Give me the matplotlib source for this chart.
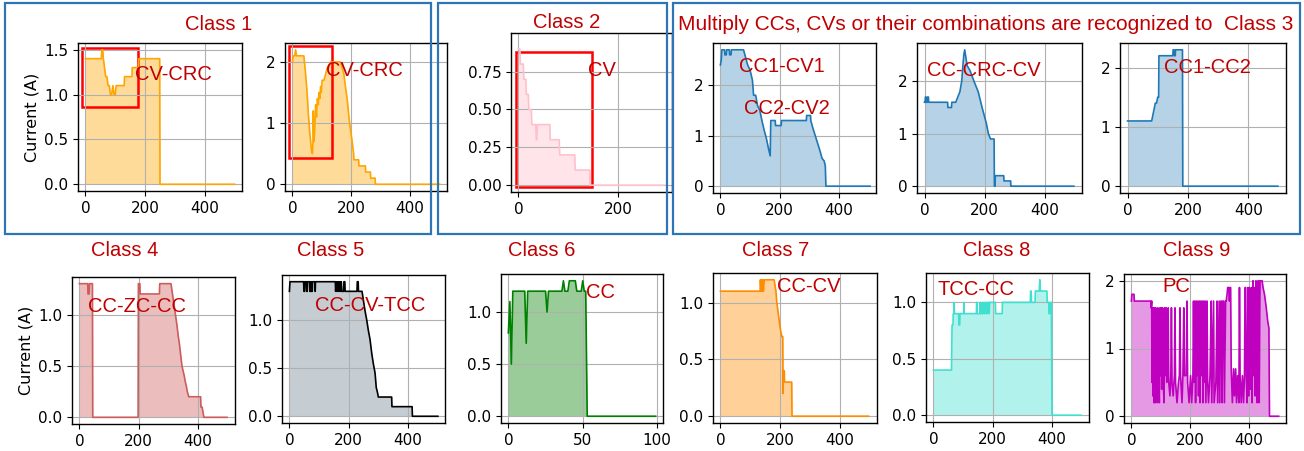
import matplotlib
matplotlib.use("Agg")
import matplotlib.pyplot as plt
from matplotlib.patches import Rectangle

W, H = 1304, 451
RED_TXT = "#c00000"
BOX_BLUE = "#2e75b6"
TXT_FONT = ["Liberation Sans", "DejaVu Sans"]

# ---- data: (time, current) breakpoints ----
# Class 1, left
c1a_x = [0, 53, 55, 58, 60, 64, 68, 72, 76, 80, 84, 88, 92, 96, 100, 103, 130, 131, 156, 157, 178, 179, 249, 250, 500]
c1a_y = [1.4, 1.4, 1.5, 1.5, 1.4, 1.3, 1.2, 1.2, 1.1, 1.1, 1.0, 1.0, 1.1, 1.0, 1.0, 1.1, 1.1, 1.2, 1.2, 1.3, 1.3, 1.4, 1.4, 0.0, 0.0]
# Class 1, right
c1b_x = [0, 3, 8, 11, 14, 39, 45, 50, 55, 60, 65, 68, 70, 71, 73, 76, 79, 82, 85, 88, 90, 93, 96, 98, 101, 107,
         113, 118, 124, 130, 163, 169, 175, 180, 186, 192, 197, 203, 208, 209, 225, 226, 248, 249, 265, 266, 281, 282, 500]
c1b_y = [2.0, 2.1, 2.1, 2.2, 2.1, 2.1, 1.8, 1.5, 1.1, 0.8, 0.55, 0.5, 0.7, 1.2, 0.7, 0.9, 1.3, 1.1, 1.4, 1.3, 1.5, 1.4, 1.6, 1.5, 1.7, 1.7,
         1.8, 1.9, 1.9, 2.0, 2.0, 1.9, 1.8, 1.6, 1.4, 1.1, 0.9, 0.7, 0.5, 0.4, 0.4, 0.3, 0.3, 0.2, 0.2, 0.1, 0.1, 0.0, 0.0]
# Class 2
c2_x = [0, 3, 4, 10, 11, 15, 16, 20, 21, 26, 27, 35, 36, 37, 38, 63, 64, 82, 83, 113, 114, 143, 144, 293]
c2_y = [0.9, 0.9, 0.8, 0.8, 0.7, 0.7, 0.6, 0.6, 0.5, 0.5, 0.4, 0.4, 0.3, 0.3, 0.4, 0.4, 0.3, 0.3, 0.2, 0.2, 0.1, 0.1, 0.0, 0.0]
# Class 3: CC1-CV1 / CC2-CV2
c3a_x = [0, 3, 5, 14, 15, 20, 21, 30, 31, 36, 37, 78, 85, 92, 100, 108, 112, 119, 125, 133, 140, 148, 155, 162, 168,
         170, 185, 186, 205, 206, 290, 291, 304, 305, 312, 320, 328, 336, 343, 350, 354, 356, 505]
c3a_y = [2.4, 2.5, 2.7, 2.7, 2.6, 2.6, 2.7, 2.7, 2.6, 2.6, 2.7, 2.7, 2.55, 2.4, 2.3, 2.1, 1.8, 1.8, 1.6, 1.5, 1.3, 1.1, 0.95, 0.75, 0.6,
         1.3, 1.3, 1.2, 1.2, 1.3, 1.3, 1.4, 1.4, 1.3, 1.15, 1.0, 0.85, 0.7, 0.55, 0.5, 0.4, 0.0, 0.0]
# Class 3: CC-CRC-CV
c3b_x = [0, 2, 3, 5, 6, 9, 10, 13, 14, 77, 78, 90, 91, 104, 111, 118, 124, 128, 131, 134,
         138, 142, 152, 165, 179, 192, 206, 213, 220, 232, 233, 235, 236, 264, 265, 287, 288, 498]
c3b_y = [1.6, 1.6, 1.7, 1.7, 1.6, 1.6, 1.7, 1.7, 1.6, 1.6, 1.5, 1.5, 1.6, 1.6, 1.7, 1.8, 2.0, 2.3, 2.5, 2.6,
         2.45, 2.3, 2.2, 2.0, 1.8, 1.5, 1.2, 1.0, 0.9, 0.9, 0.0, 0.0, 0.2, 0.2, 0.1, 0.1, 0.0, 0.0]
# Class 3: CC1-CC2
c3c_x = [0, 80, 84, 88, 92, 96, 100, 103, 104, 150, 151, 154, 155, 158, 159, 182, 183, 498]
c3c_y = [1.1, 1.1, 1.2, 1.3, 1.4, 1.4, 1.5, 1.5, 2.2, 2.2, 2.3, 2.3, 2.2, 2.2, 2.3, 2.3, 0.0, 0.0]
# Class 4
c4_x = [0, 28, 29, 33, 34, 44, 45, 198, 199, 204, 205, 270, 271, 309, 314, 319, 324, 329, 333, 338, 342,
        346, 350, 354, 357, 361, 364, 369, 409, 410, 414, 420, 498]
c4_y = [1.3, 1.3, 1.2, 1.2, 1.3, 1.3, 0.0, 0.0, 1.3, 1.3, 1.2, 1.2, 1.3, 1.3, 1.2, 1.1, 1.0, 0.9, 0.8, 0.7, 0.6,
        0.5, 0.45, 0.4, 0.35, 0.3, 0.25, 0.2, 0.2, 0.1, 0.1, 0.0, 0.0]
# Class 5
c5_x = [0, 2, 48, 49, 51, 52, 57, 58, 60, 61, 68, 69, 71, 72, 74, 75, 77, 78, 86, 87, 88, 155, 156, 158, 160, 162,
        164, 166, 168, 170, 172, 175, 177, 183, 184, 187, 188, 228, 229, 232, 233, 245, 250, 255, 261, 266, 272,
        278, 283, 289, 293, 297, 300, 345, 346, 414, 415, 501]
c5_y = [1.3, 1.4, 1.4, 1.3, 1.3, 1.4, 1.4, 1.3, 1.3, 1.4, 1.4, 1.3, 1.3, 1.4, 1.4, 1.3, 1.3, 1.4, 1.4, 1.3, 1.4, 1.4, 1.3, 1.4, 1.3, 1.4,
        1.3, 1.4, 1.3, 1.4, 1.3, 1.4, 1.3, 1.3, 1.4, 1.4, 1.3, 1.3, 1.4, 1.4, 1.3, 1.3, 1.2, 1.1, 1.0, 0.9, 0.8,
        0.65, 0.55, 0.45, 0.3, 0.25, 0.2, 0.2, 0.1, 0.1, 0.0, 0.0]
# Class 6
c6_x = [0, 1, 2, 3, 11, 12, 13, 25, 26, 27, 36, 37, 38, 40, 41, 45, 46, 49, 50, 51, 52, 53, 99]
c6_y = [0.8, 1.1, 0.5, 1.2, 1.2, 0.7, 1.2, 1.2, 1.0, 1.2, 1.2, 1.3, 1.2, 1.2, 1.3, 1.3, 1.2, 1.2, 1.3, 1.2, 1.2, 0.0, 0.0]
# Class 7
c7_x = [0, 133, 134, 136, 138, 140, 142, 144, 147, 180, 186, 189, 194, 199, 202, 206, 209, 210, 211, 214, 215, 239, 240, 497]
c7_y = [1.1, 1.1, 1.2, 1.1, 1.2, 1.1, 1.2, 1.1, 1.2, 1.2, 1.1, 1.0, 0.9, 0.8, 0.75, 0.7, 0.7, 0.2, 0.4, 0.4, 0.3, 0.3, 0.0, 0.0]
# Class 8
c8_x = [0, 61, 63, 66, 67, 69, 70, 71, 85, 86, 89, 90, 102, 103, 104, 145, 146, 148, 157, 158, 160, 164, 165, 167, 170,
        172, 176, 178, 181, 183, 186, 188, 190, 209, 210, 232, 233, 327, 328, 330, 331, 343, 344, 357, 359, 361,
        383, 384, 389, 390, 393, 394, 398, 400, 498]
c8_y = [0.4, 0.4, 0.8, 0.8, 0.9, 0.9, 1.0, 0.9, 0.9, 0.8, 0.8, 0.9, 0.9, 1.0, 0.9, 0.9, 1.0, 0.9, 0.9, 1.0, 0.9, 0.9, 1.0, 0.9, 1.0,
        0.9, 1.0, 0.9, 1.0, 0.9, 1.0, 0.9, 1.0, 1.0, 0.9, 0.9, 1.0, 1.0, 1.1, 1.1, 1.0, 1.0, 1.1, 1.1, 1.2, 1.1,
        1.1, 1.0, 1.0, 0.9, 0.9, 1.0, 1.0, 0.0, 0.0]
# Class 9 (pulse charging)
c9_x = [0, 2, 9, 10, 66, 67, 69, 70, 72, 73, 75, 77, 79, 81, 83, 85, 88, 90, 92, 95, 97, 99, 101, 103, 106, 108, 111,
        113, 115, 118, 120, 123, 125, 127, 131, 134, 136, 138, 142, 146, 148, 150, 155, 160, 163, 165, 167, 172,
        175, 178, 180, 186, 189, 191, 196, 201, 205, 209, 211, 213, 216, 218, 221, 223, 226, 228, 231, 233, 236,
        238, 241, 243, 246, 248, 251, 253, 257, 259, 262, 267, 271, 273, 279, 281, 287, 291, 293, 298, 300, 304,
        306, 308, 311, 314, 316, 320, 322, 325, 327, 331, 333, 335, 337, 339, 343, 347, 350, 354, 357, 361, 365,
        367, 369, 373, 377, 381, 384, 386, 388, 390, 393, 396, 398, 401, 403, 405, 408, 410, 413, 415, 418, 420,
        423, 425, 427, 430, 432, 434, 437, 444, 447, 452, 458, 463, 467, 469, 500]
c9_y = [1.7, 1.8, 1.8, 1.7, 1.7, 1.6, 1.7, 0.5, 1.6, 0.3, 1.6, 0.2, 1.6, 0.2, 1.6, 0.5, 0.2, 1.6, 0.6, 0.2, 1.6, 0.6, 1.6, 0.4, 1.6, 0.5, 0.2,
        1.6, 0.6, 1.6, 0.5, 0.6, 1.6, 0.5, 0.3, 0.6, 1.6, 0.5, 0.3, 0.6, 1.6, 0.5, 0.2, 0.5, 0.6, 1.6, 0.6, 0.2,
        0.6, 1.6, 0.6, 0.6, 1.7, 0.5, 0.2, 0.6, 0.2, 0.6, 1.7, 0.5, 1.7, 0.2, 1.7, 0.6, 1.7, 0.3, 1.7, 0.2, 1.7,
        0.6, 1.7, 0.2, 1.7, 0.5, 1.7, 0.2, 1.7, 0.5, 0.2, 0.6, 1.7, 0.2, 1.7, 0.2, 0.5, 1.7, 0.2, 1.7, 0.2, 1.7,
        1.7, 0.2, 1.7, 1.7, 0.2, 1.7, 1.7, 1.8, 1.9, 1.9, 1.7, 1.9, 1.9, 0.7, 0.2, 0.7, 0.3, 0.7, 0.2, 0.6, 0.2,
        1.9, 0.6, 0.2, 0.6, 0.2, 0.6, 1.9, 1.9, 0.6, 0.2, 1.9, 0.3, 1.9, 1.8, 0.4, 1.9, 0.2, 2.0, 0.6, 1.9, 0.3,
        2.0, 1.9, 0.2, 2.0, 2.0, 0.2, 2.0, 2.0, 1.9, 1.8, 1.6, 1.4, 1.3, 0.0, 0.0]

# ---- layout, all in pixels of the 1304x451 picture ----
fig = plt.figure(figsize=(W / 100, H / 100), dpi=100)


def px_axes(x0, y0, x1, y1):
    return fig.add_axes([x0 / W, 1 - y1 / H, (x1 - x0) / W, (y1 - y0) / H])


def draw(ax, x, y, color, xlim, ylim, xticks, yticks, ylabels=None, alpha=0.4):
    ax.fill_between(x, y, color=color[1], alpha=alpha, lw=0)
    ax.plot(x, y, color=color[0], lw=1.2)
    ax.set_xlim(*xlim)
    ax.set_ylim(*ylim)
    ax.set_xticks(xticks)
    ax.set_yticks(yticks)
    if ylabels is not None:
        ax.set_yticklabels(ylabels)
    ax.grid(True, color="#b0b0b0", lw=0.8)
    ax.tick_params(labelsize=11, length=3.5, width=0.8)
    for s in ax.spines.values():
        s.set_linewidth(1.0)


def note(ax, x, y, s):
    ax.text(x, y, s, color=RED_TXT, fontsize=14.5, family=TXT_FONT, ha="left", va="center")


X5 = (-25, 525)
T3 = [0, 200, 400]

# top row
a = px_axes(78, 43, 242, 191)
draw(a, c1a_x, c1a_y, ("orange", "orange"), X5, (-0.075, 1.575), T3, [0, 0.5, 1.0, 1.5])
a.set_ylabel("Current (A)", fontsize=11.5, labelpad=3)
a.add_patch(Rectangle((-11, 0.867), 188, 0.647, fill=False, ec="red", lw=1.8))
note(a, 165, 1.22, "CV-CRC")

a = px_axes(285, 43, 447, 191)
draw(a, c1b_x, c1b_y, ("orange", "orange"), X5, (-0.11, 2.31), T3, [0, 1, 2])
a.add_patch(Rectangle((-10, 0.435), 143, 1.82, fill=False, ec="red", lw=1.8))
note(a, 113, 1.86, "CV-CRC")

a = px_axes(511, 33, 672, 192)
draw(a, c2_x, c2_y, ("pink", "pink"), (-14.7, 308), (-0.045, 1.005), [0, 200], [0, 0.25, 0.5, 0.75],
     ["0.00", "0.25", "0.50", "0.75"])
a.add_patch(Rectangle((-4.7, -0.011), 151.7, 0.888, fill=False, ec="red", lw=1.8))
note(a, 140, 0.757, "CV")

a = px_axes(713, 43, 876, 193)
draw(a, c3a_x, c3a_y, ("#1f77b4", "#1f77b4"), X5, (-0.135, 2.835), T3, [0, 1, 2], alpha=0.33)
note(a, 64, 2.37, "CC1-CV1")
note(a, 78, 1.53, "CC2-CV2")

a = px_axes(917, 43, 1082, 193)
draw(a, c3b_x, c3b_y, ("#1f77b4", "#1f77b4"), X5, (-0.13, 2.73), T3, [0, 1, 2], alpha=0.33)
note(a, 9, 2.21, "CC-CRC-CV")

a = px_axes(1120, 43, 1286, 193)
draw(a, c3c_x, c3c_y, ("#1f77b4", "#1f77b4"), X5, (-0.115, 2.415), T3, [0, 1, 2], alpha=0.33)
note(a, 120, 2.0, "CC1-CC2")

# bottom row
a = px_axes(72, 277, 235, 424)
draw(a, c4_x, c4_y, ("indianred", "indianred"), X5, (-0.065, 1.365), T3, [0, 0.5, 1.0])
a.set_ylabel("Current (A)", fontsize=11.5, labelpad=3)
note(a, 28, 1.08, "CC-ZC-CC")

a = px_axes(282, 275, 445, 423)
draw(a, c5_x, c5_y, ("black", "slategray"), X5, (-0.07, 1.47), T3, [0, 0.5, 1.0])
note(a, 88, 1.15, "CC-CV-TCC")

a = px_axes(501, 274, 663, 423)
draw(a, c6_x, c6_y, ("green", "green"), (-4.95, 103.95), (-0.065, 1.365), [0, 50, 100], [0, 0.5, 1.0])
note(a, 52, 1.19, "CC")

a = px_axes(713, 273, 877, 423)
draw(a, c7_x, c7_y, ("darkorange", "darkorange"), X5, (-0.06, 1.26), T3, [0, 0.5, 1.0])
note(a, 191, 1.14, "CC-CV")

a = px_axes(926, 273, 1089, 422)
draw(a, c8_x, c8_y, ("turquoise", "turquoise"), X5, (-0.06, 1.26), T3, [0, 0.5, 1.0])
note(a, 13, 1.11, "TCC-CC")

a = px_axes(1124, 274, 1286, 423)
draw(a, c9_x, c9_y, ("m", "m"), X5, (-0.1, 2.1), T3, [0, 1, 2])
note(a, 105, 1.92, "PC")

# titles
titles = [(219, 24, "Class 1", 14.5), (567, 23, "Class 2", 14.5),
          (986, 25, "Multiply CCs, CVs or their combinations are recognized to  Class 3", 15),
          (125, 250, "Class 4", 14.5), (331, 250, "Class 5", 14.5), (542, 250, "Class 6", 14.5),
          (776, 250, "Class 7", 14.5), (997, 250, "Class 8", 14.5), (1197, 250, "Class 9", 14.5)]
for tx, ty, s, fs in titles:
    fig.text(tx / W, 1 - ty / H, s, color=RED_TXT, fontsize=fs, family=TXT_FONT, ha="center", va="center")

# blue group boxes
for x0, y0, x1, y1 in [(5, 3, 431, 234), (438, 3, 667, 234), (673, 3, 1300, 234)]:
    fig.add_artist(Rectangle((x0 / W, 1 - y1 / H), (x1 - x0) / W, (y1 - y0) / H, transform=fig.transFigure,
                             fill=False, ec=BOX_BLUE, lw=1.6))

fig.savefig("out.png", dpi=100)
